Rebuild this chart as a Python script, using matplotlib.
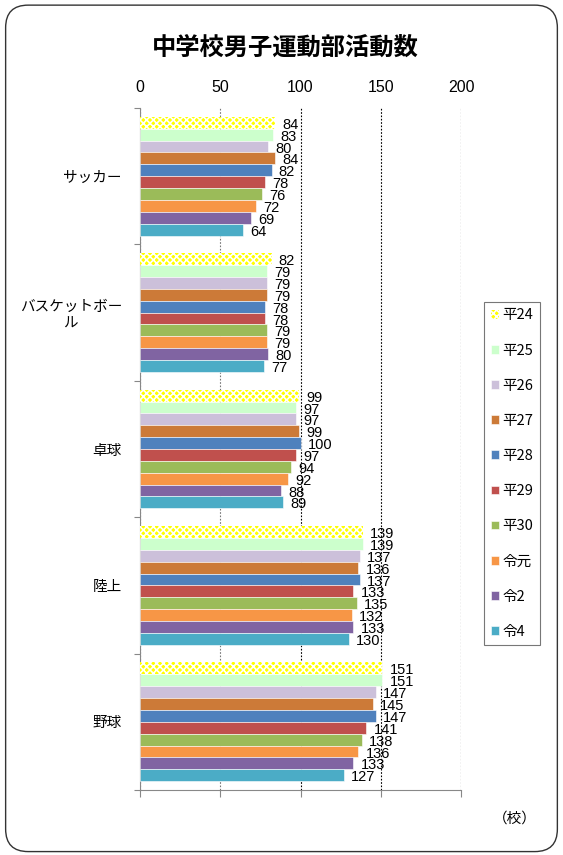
import numpy as np
import matplotlib.pyplot as plt
from matplotlib.patches import FancyBboxPatch
import matplotlib as mpl

plt.rcParams['font.family'] = ['Noto Sans CJK JP', 'DejaVu Sans']
mpl.rcParams['hatch.linewidth'] = 1.2

categories = ["サッカー", "バスケットボー\nル", "卓球", "陸上", "野球"]
years = ["平24", "平25", "平26", "平27", "平28", "平29", "平30", "令元", "令2", "令4"]
soccer = [84, 83, 80, 84, 82, 78, 76, 72, 69, 64]
basket = [82, 79, 79, 79, 78, 78, 79, 79, 80, 77]
pingpong = [99, 97, 97, 99, 100, 97, 94, 92, 88, 89]
track = [139, 139, 137, 136, 137, 133, 135, 132, 133, 130]
baseball = [151, 151, 147, 145, 147, 141, 138, 136, 133, 127]
xticks = [0, 50, 100, 150, 200]

colors = ["#FFFF00", "#CCFFCC", "#CCC0DA", "#CC7A38", "#4F81BD",
          "#C0504D", "#9BBB59", "#F79646", "#8064A2", "#4BACC6"]

values = np.array([soccer, basket, pingpong, track, baseball])

fig = plt.figure(figsize=(5.63, 8.55), dpi=100)

# 角丸の枠
frame = FancyBboxPatch((0.01, 0.004), 0.98, 0.99, boxstyle="round,pad=0,rounding_size=0.04",
                       transform=fig.transFigure, fill=False, edgecolor="#333333",
                       linewidth=1.0, mutation_aspect=563 / 855)
fig.patches.append(frame)

fig.text(0.507, 0.944, "中学校男子運動部活動数", ha="center", va="center",
         fontsize=17.5, fontweight="bold")

ax = fig.add_axes([0.2487, 0.076, 0.5702, 0.7977])

n_cat = len(categories)
n_ser = len(years)
bar_h = 0.87 / n_ser
for j in range(n_ser):
    y = np.arange(n_cat) + 0.5 - 0.435 + bar_h * (j + 0.5)
    kw = dict(color=colors[j], edgecolor="white", linewidth=0.4)
    if j == 0:
        kw = dict(facecolor=colors[j], edgecolor="white", hatch="xxxxx", linewidth=0)
    ax.barh(y, values[:, j], height=bar_h, label=years[j], zorder=3, **kw)
    # 値ラベル（元の図と同じく少し重なる）
    for yi, v in zip(y, values[:, j]):
        ax.text(v + 4.5, yi + 0.015, str(v), va="center", ha="left", fontsize=10.5,
                family=["Liberation Sans", "DejaVu Sans"], zorder=4)

ax.set_ylim(n_cat, 0)
ax.set_xlim(0, 200)
ax.set_yticks(np.arange(n_cat + 1))
ax.set_yticklabels([])
ax.set_yticks(np.arange(n_cat) + 0.5, minor=True)
ax.set_yticklabels(categories, minor=True, fontsize=10.5, ha="right", multialignment="center")
ax.tick_params(axis="y", which="minor", length=0, pad=13)
ax.tick_params(axis="y", which="major", length=4, color="#888888")

ax.set_xticks(xticks)
ax.xaxis.set_ticks_position("bottom")
ax.tick_params(axis="x", labelbottom=False, labeltop=True, length=5,
               color="#888888", labelsize=11.5, pad=4)
for lab in ax.get_xticklabels():
    lab.set_family(["Liberation Sans", "DejaVu Sans"])

ax.grid(axis="x", linestyle=(0, (1.5, 1.5)), color="black", linewidth=0.8, zorder=0)
ax.xaxis.get_gridlines()[1].set_color("#777777")
ax.spines["top"].set_visible(False)
ax.spines["right"].set_visible(False)
ax.spines["left"].set_color("#888888")
ax.spines["bottom"].set_color("#888888")

handles, labels = ax.get_legend_handles_labels()
leg = fig.legend(handles, labels, loc="upper left", bbox_to_anchor=(0.86, 0.647),
                 frameon=True, fancybox=False, edgecolor="#555555", fontsize=10.5,
                 handlelength=0.55, handleheight=0.55, handletextpad=0.25,
                 labelspacing=1.45, borderpad=0.45, borderaxespad=0)
leg.get_frame().set_linewidth(0.8)

fig.text(0.915, 0.043, "（校）", ha="center", va="center", fontsize=10.5)

fig.savefig("out.png", dpi=100)
